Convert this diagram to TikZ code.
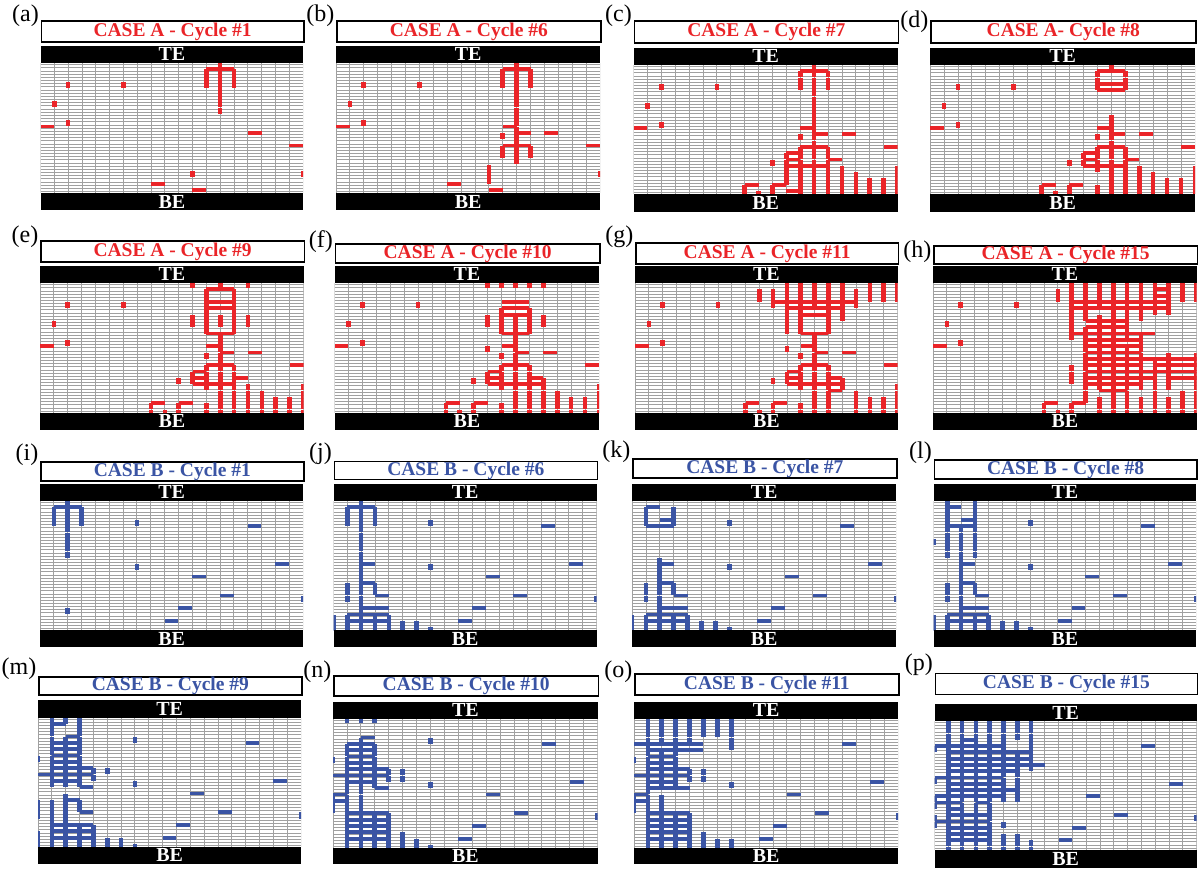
\documentclass[tikz,border=0pt]{standalone}
\usepackage{fontspec}
\setmainfont{Liberation Serif}
\definecolor{fred}{RGB}{234,36,40}
\definecolor{fblue}{RGB}{58,84,164}
\definecolor{gline}{RGB}{160,160,160}
\tikzset{
  gridline/.style={draw=gline, line width=0.8pt},
  titlebox/.style={draw=black, line width=1.7pt, fill=white, inner sep=0pt,
     font=\fontsize{19.5}{19.5}\selectfont\bfseries},
  elbar/.style={fill=black, draw=none, inner sep=0pt, text=white,
     font=\fontsize{20}{20}\selectfont\bfseries},
  lab/.style={inner sep=0pt, font=\fontsize{24}{24}\selectfont}
}
\newcommand{\setpanel}[9]{\def\pXa{#1}\def\pXb{#2}\def\pTa{#3}\def\pTb{#4}\def\pEa{#5}\def\pGa{#6}\def\pGb{#7}\def\pBb{#8}\def\pLy{#9}}
\newcommand{\drawpanel}[7]{%
 \pgfmathsetmacro\pw{\pXb-\pXa}%
 \pgfmathsetmacro\gh{\pGb-\pGa}%
 \pgfmathsetmacro\cw{\pw/19}%
 \pgfmathsetmacro\rh{(\gh-3)/20}%
 \pgfmathsetmacro\th{\pTb-\pTa}%
 \pgfmathsetmacro\eh{\pGa-\pEa}%
 \pgfmathsetmacro\bh{\pBb-\pGb}%
 \begin{scope}[shift={(\pXa,\pGa)}]
  \clip (0,0) rectangle (\pw,\gh);
  \foreach \k in {0,...,40} {\draw[gridline] (0,{\rh*(0.25+0.5*\k)}) -- (\pw,{\rh*(0.25+0.5*\k)});}
  \foreach \i in {0,...,19} {\draw[gridline] ({\i*\cw},0) -- ({\i*\cw},\gh);}
  \foreach \j/\a/\b in {#5} {\foreach \i in {\a,...,\b} {\fill[#4] ({\i*\cw},{(\j-0.3)*\rh}) rectangle ({(\i+1)*\cw},{(\j+0.3)*\rh});}}
  \foreach \i/\a/\b in {#6} {\foreach \j in {\a,...,\b} {\fill[#4] ({\i*\cw-2.3},{\j*\rh+0.1}) rectangle ({\i*\cw+2.3},{(\j+1)*\rh-0.1});}}
  \foreach \i in {#7} {\fill[#4] ({\i*\cw-2.3},0.3) rectangle ({\i*\cw+2.3},{0.75*\rh});}
 \end{scope}
 \node[elbar, minimum width=\pw pt, minimum height=\eh pt, anchor=north west] (te#1) at (\pXa,\pEa) {TE};
 \node[elbar, minimum width=\pw pt, minimum height=\bh pt, anchor=north west] (be#1) at (\pXa,\pGb) {BE};
 \node[titlebox, minimum width=\pw pt, minimum height=\th pt, anchor=north west, text=#4] (ti#1) at (\pXa,\pTa) {#3};
 \node[lab, anchor=east] (lb#1) at ({\pXa-1.5},\pLy) {(#2)};
}
\begin{document}
\begin{tikzpicture}[x=1pt,y=-1pt]
\fill[white] (0,0) rectangle (1200,869);
\useasboundingbox (0,0) rectangle (1200,869);

% ---------------- Row 1 ----------------
\setpanel{40.5}{303}{20}{41}{45.5}{63}{193}{210}{16}
\drawpanel{a}{a}{CASE A - Cycle \#1}{fred}
 {1/12/13, 10/0/0, 11/15/15, 13/18/18, 19/8/8, 20/11/11}
 {13/0/7, 12/1/3, 14/1/3, 2/3/3, 6/3/3, 1/6/6, 2/9/9, 11/17/17, 19/17/17}
 {-9}

\setpanel{336}{600}{20}{41}{45.5}{63}{193}{210}{16}
\drawpanel{b}{b}{CASE A - Cycle \#6}{fred}
 {1/12/13, 10/0/0, 11/15/15, 13/18/18, 19/8/8, 20/11/11, 10/12/12, 11/13/13, 13/12/13}
 {13/0/15, 12/1/3, 14/1/3, 2/3/3, 6/3/3, 1/6/6, 2/9/9, 11/16/18, 19/17/17, 12/11/11, 12/13/14, 14/13/14}
 {-9}

\setpanel{633.5}{897.5}{20}{42}{47.5}{65}{194}{212}{16}
\drawpanel{c}{c}{CASE A - Cycle \#7}{fred}
 {1/12/13, 10/0/0, 11/15/15, 13/18/18, 10/12/12, 11/13/13, 13/12/13, 14/11/11, 15/11/11, 15/14/14, 16/11/13, 19/8/8, 19/10/10, 20/11/11}
 {13/0/20, 12/1/3, 14/1/3, 2/3/3, 6/3/3, 1/6/6, 2/9/9, 12/11/11, 12/13/20, 14/13/20, 11/14/18, 10/15/15, 8/19/20, 9/20/20, 10/19/20, 15/16/20, 16/17/20, 17/18/20, 18/18/20, 19/16/20}
 {-9}

\setpanel{930}{1195}{20}{42}{47.5}{65}{194}{212}{22}
\drawpanel{d}{d}{CASE A- Cycle \#8}{fred}
 {1/12/13, 3/12/13, 4/12/13, 10/0/0, 11/15/15, 13/18/18, 10/12/12, 11/13/13, 13/12/13, 14/11/11, 15/11/11, 15/14/14, 16/11/13, 19/8/8, 19/10/10}
 {13/0/0, 12/1/3, 14/1/3, 2/3/3, 6/3/3, 1/6/6, 2/9/9, 13/8/20, 12/11/11, 12/13/16, 12/19/20, 14/13/20, 11/14/15, 10/15/15, 8/19/20, 9/20/20, 10/19/20, 15/16/20, 16/17/20, 17/18/20, 18/18/20, 19/16/20}
 {-9}

% ---------------- Row 2 ----------------
\setpanel{40}{303.5}{240}{261}{265.5}{283}{412.5}{430}{237}
\drawpanel{e}{e}{CASE A - Cycle \#9}{fred}
 {1/12/13, 3/12/13, 4/12/13, 8/12/13, 10/0/0, 10/12/12, 11/13/13, 11/15/15, 13/12/13, 13/18/18, 14/11/11, 15/11/11, 15/14/14, 16/11/13, 19/8/8, 19/10/10}
 {13/0/0, 12/1/7, 14/1/7, 13/5/6, 11/5/6, 15/5/6, 13/8/20, 12/11/11, 12/13/16, 12/19/20, 14/13/20, 11/14/15, 10/15/15, 8/19/20, 9/20/20, 10/19/20, 15/16/20, 16/17/20, 17/18/20, 18/18/20, 19/16/20, 2/3/3, 6/3/3, 1/6/6, 2/9/9}
 {11,15}

\setpanel{334.5}{599}{243}{262}{265.5}{283}{412.5}{430}{242}
\drawpanel{f}{f}{CASE A - Cycle \#10}{fred}
 {3/12/13, 4/12/13, 5/12/13, 8/12/13, 10/0/0, 10/12/12, 11/13/13, 11/15/15, 13/12/13, 13/18/18, 14/11/11, 15/11/11, 15/14/14, 16/11/14, 19/8/8, 19/10/10}
 {12/4/7, 14/4/7, 13/5/7, 11/5/6, 15/5/6, 11/10/10, 13/8/20, 12/11/11, 12/13/16, 12/19/20, 14/13/20, 11/14/15, 10/15/15, 15/15/20, 16/17/20, 17/18/20, 18/18/20, 19/16/20, 8/19/20, 9/20/20, 10/19/20, 2/3/3, 6/3/3, 1/6/6, 2/9/9}
 {11,12,13,14,15}

\setpanel{635}{897.5}{242.5}{263.5}{265.5}{283}{412.5}{430}{237}
\drawpanel{g}{g}{CASE A - Cycle \#11}{fred}
 {3/10/15, 4/11/14, 5/12/13, 8/12/13, 10/0/0, 10/12/12, 11/13/13, 11/15/15, 13/12/13, 13/18/18, 14/11/11, 15/11/11, 15/14/14, 16/11/14, 17/14/14, 19/8/8, 19/10/10}
 {9/1/2, 10/1/3, 11/0/7, 12/0/7, 13/0/3, 14/0/7, 15/0/5, 16/1/3, 17/0/2, 18/0/2, 19/0/2, 13/8/20, 11/10/10, 12/11/11, 12/13/16, 12/19/20, 14/13/20, 11/14/15, 10/15/15, 15/15/16, 16/17/20, 17/18/20, 18/18/20, 19/16/20, 8/19/20, 9/20/20, 10/19/20, 2/3/3, 6/3/3, 1/6/6, 2/9/9}
 {-9}

\setpanel{933}{1196.5}{245.5}{263}{265.5}{283}{412.5}{430}{252}
\drawpanel{h}{h}{CASE A - Cycle \#15}{fred}
 {1/16/16, 2/16/16, 3/10/16, 4/10/16, 6/11/13, 7/11/13, 8/10/15, 9/11/14, 10/11/14, 11/11/14, 12/11/18, 13/11/14, 13/16/18, 14/11/18, 15/11/15, 15/17/18, 16/11/14, 17/12/13, 10/0/0, 19/8/8, 19/10/10}
 {9/1/2, 10/0/8, 11/0/5, 11/7/18, 12/0/3, 12/5/16, 12/18/20, 13/0/20, 14/0/8, 14/10/20, 15/0/5, 15/8/16, 16/0/4, 17/0/4, 18/0/2, 19/0/2, 16/12/20, 17/11/16, 19/11/20, 18/17/20, 17/18/20, 15/18/20, 10/13/15, 8/19/20, 9/20/20, 10/19/20, 2/3/3, 6/3/3, 1/6/6, 2/9/9}
 {-9}

% ---------------- Row 3 ----------------
\setpanel{40}{303}{461}{480}{483.5}{501}{630}{647}{455}
\drawpanel{i}{i}{CASE B - Cycle \#1}{fblue}
 {1/1/2, 4/15/15, 10/17/17, 12/11/11, 15/13/13, 17/10/10, 19/9/9}
 {2/0/8, 1/1/3, 3/1/3, 7/3/3, 7/10/10, 19/15/15, 2/17/17}
 {-9}

\setpanel{333.5}{596.5}{460.5}{478.5}{483.5}{501}{630}{647}{454}
\drawpanel{j}{j}{CASE B - Cycle \#6}{fblue}
 {1/1/2, 10/2/2, 13/2/2, 15/3/3, 17/2/3, 18/1/3, 19/1/3, 4/15/15, 10/17/17, 12/11/11, 15/13/13, 17/10/10, 19/9/9}
 {2/0/20, 1/1/3, 3/1/3, 3/13/14, 1/13/15, 1/18/20, 3/18/20, 4/18/20, 0/18/20, 5/19/20, 6/19/20, 7/20/20, 7/3/3, 7/10/10, 19/15/15}
 {-9}

\setpanel{632}{896}{458}{477}{483.5}{501}{630}{647}{452}
\drawpanel{k}{k}{CASE B - Cycle \#7}{fblue}
 {1/1/1, 3/2/2, 4/1/2, 10/2/2, 13/2/2, 15/3/3, 17/2/3, 18/1/3, 19/1/3, 4/15/15, 10/17/17, 12/11/11, 15/13/13, 17/10/10, 19/9/9}
 {1/1/3, 3/1/3, 2/9/20, 3/13/14, 1/13/15, 1/18/20, 3/18/20, 4/18/20, 0/18/20, 5/19/20, 6/19/20, 7/20/20, 7/3/3, 7/10/10, 19/15/15}
 {-9}

\setpanel{933.5}{1196}{459}{478}{483.5}{501}{630}{647}{453}
\drawpanel{l}{l}{CASE B - Cycle \#8}{fblue}
 {1/1/1, 3/2/2, 4/1/2, 10/2/2, 13/2/2, 15/3/3, 17/2/3, 18/1/3, 19/1/3, 4/15/15, 10/17/17, 12/11/11, 15/13/13, 17/10/10, 19/9/9}
 {1/0/8, 3/0/8, 0/6/6, 2/4/20, 3/13/14, 1/13/15, 1/18/20, 3/18/20, 4/18/20, 0/18/20, 5/19/20, 6/19/20, 7/20/20, 7/3/3, 7/10/10, 19/15/15}
 {-9}

% ---------------- Row 4 ----------------
\setpanel{38}{301}{676}{694}{700}{717.5}{847}{863.5}{669}
\drawpanel{m}{m}{CASE B - Cycle \#9}{fblue}
 {1/1/1, 3/2/2, 4/1/2, 5/1/2, 6/1/2, 7/1/2, 8/1/3, 9/0/3, 10/1/2, 11/3/3, 13/2/2, 15/3/3, 17/1/3, 18/1/3, 19/1/3, 4/15/15, 10/17/17, 12/11/11, 15/13/13, 17/10/10, 19/9/9}
 {1/0/10, 2/3/10, 3/0/10, 2/0/0, 0/6/6, 4/8/9, 5/8/8, 7/3/3, 7/10/10, 2/12/20, 1/13/20, 3/13/14, 0/13/15, 0/18/20, 3/17/20, 4/17/20, 5/19/20, 6/19/20, 7/20/20, 19/15/15}
 {-9}

\setpanel{333}{597.5}{675}{695}{701.5}{718.5}{848}{864}{672}
\drawpanel{n}{n}{CASE B - Cycle \#10}{fblue}
 {3/2/2, 4/1/2, 5/1/2, 6/1/2, 7/1/2, 8/1/3, 9/0/3, 10/1/2, 11/3/3, 12/0/0, 13/0/0, 15/1/3, 16/1/3, 17/1/3, 18/1/3, 19/1/3, 4/15/15, 10/17/17, 12/11/11, 15/13/13, 17/10/10, 19/9/9}
 {1/4/10, 2/3/10, 3/4/10, 0/6/6, 4/8/9, 5/8/9, 7/3/3, 7/10/10, 0/12/14, 1/11/20, 2/11/20, 3/15/20, 4/15/20, 5/18/20, 6/19/20, 7/20/20, 19/15/15}
 {1,2,3}

\setpanel{634}{898}{673}{694}{701.5}{718.5}{848}{864}{672}
\drawpanel{o}{o}{CASE B - Cycle \#11}{fblue}
 {4/0/4, 5/1/4, 6/1/2, 7/1/2, 8/1/3, 9/0/3, 10/1/2, 11/1/2, 11/3/3, 12/0/0, 13/0/0, 15/1/3, 16/1/3, 17/1/3, 18/1/3, 19/1/3, 4/15/15, 10/17/17, 12/11/11, 15/13/13, 17/10/10, 19/9/9}
 {1/0/20, 2/0/3, 3/0/10, 4/0/3, 5/0/2, 6/0/2, 7/0/4, 2/5/10, 0/6/6, 4/8/9, 5/8/9, 7/10/10, 0/12/14, 2/12/20, 3/15/20, 4/15/20, 5/18/20, 6/19/20, 7/19/20, 19/15/15}
 {-9}

\setpanel{934.5}{1196.5}{672.5}{693.5}{703.5}{721}{849.5}{868}{665}
\drawpanel{p}{p}{CASE B - Cycle \#15}{fblue}
 {3/2/2, 4/0/4, 5/1/6, 6/1/6, 7/1/7, 8/1/5, 9/0/4, 10/1/4, 11/1/5, 12/0/4, 13/0/1, 13/3/3, 14/1/1, 15/1/3, 16/0/3, 17/1/3, 18/1/3, 19/1/3, 4/15/15, 10/17/17, 12/11/11, 15/13/13, 17/10/10, 19/9/9}
 {0/4/4, 0/9/9, 0/12/13, 0/15/16, 1/0/20, 2/0/20, 3/0/20, 4/0/20, 5/0/12, 5/16/16, 5/18/20, 6/0/2, 6/5/12, 6/18/20, 7/0/7, 7/19/20, 19/15/15}
 {-9}
\end{tikzpicture}
\end{document}
